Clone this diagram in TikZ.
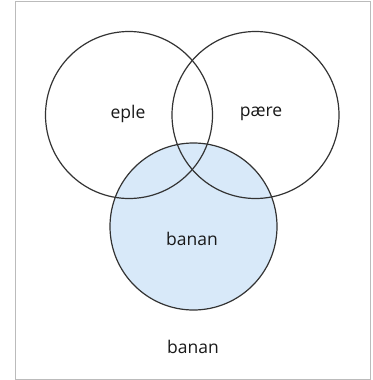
\documentclass[tikz,border=0pt]{standalone}
\usepackage{fontspec}
\setmainfont{Open Sans}
\definecolor{bananfill}{HTML}{D8E9F9}
\definecolor{ringline}{HTML}{333333}
\definecolor{framegray}{HTML}{BBBBBB}
\tikzset{
  ring/.style={circle, draw=ringline, line width=1.2pt, minimum size=167pt, inner sep=0pt},
  lbl/.style={font=\fontsize{17.5}{20}\selectfont, text=black!90, inner sep=0pt}
}
\begin{document}
\begin{tikzpicture}[x=1pt,y=-1pt]
\useasboundingbox (0,0) rectangle (372,380);
\fill[white] (0,0) rectangle (372,380);
\draw[framegray, line width=1pt] (15.5,1.5) rectangle (370.5,379);
\node[ring, draw=none, fill=bananfill] (bananfill) at (193.5,226.5) {};
\node[ring] (eple) at (129,115) {};
\node[ring] (paere) at (255.5,115) {};
\node[ring] (banan) at (193.5,226.5) {};
\node[lbl] (teple) at (128,114) {eple};
\node[lbl] (tpaere) at (261,114) {pære};
\node[lbl] (tbanan) at (192,239) {banan};
\node[lbl] (tbanan2) at (193,347) {banan};
\end{tikzpicture}
\end{document}
